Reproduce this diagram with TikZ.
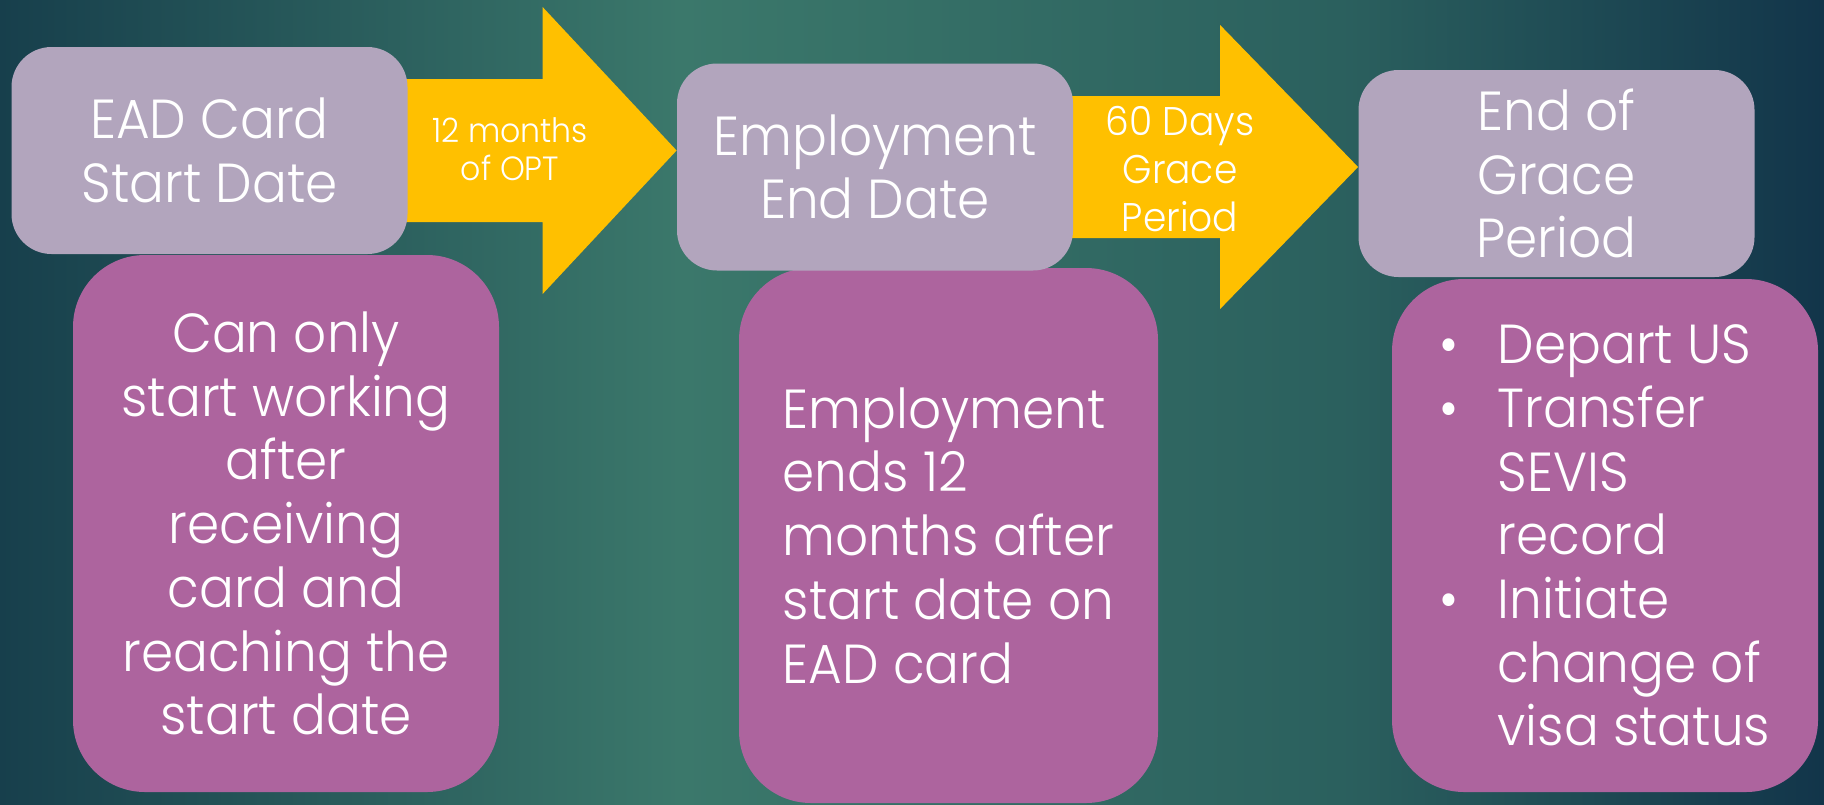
\documentclass[tikz,border=0pt]{standalone}
\usepackage{fontspec}
\IfFontExistsTF{Poppins Light}
  {\setmainfont{Poppins Light}[FakeStretch=0.94]}
  {\setmainfont{Poppins}[FakeStretch=0.94]}
\usetikzlibrary{calc}

\definecolor{bgedgeL}{HTML}{173F4C}
\definecolor{bgmid}{HTML}{3B786B}
\definecolor{bgright}{HTML}{2B605E}
\definecolor{bgedgeR}{HTML}{12354A}
\definecolor{lilac}{HTML}{B2A5BD}
\definecolor{plum}{HTML}{AD649E}
\definecolor{amber}{HTML}{FFC000}

\pgfdeclarelayer{backdrop}
\pgfdeclarelayer{arrowlayer}
\pgfsetlayers{backdrop,arrowlayer,main}

\newcommand{\bodysize}{\fontsize{27.5}{31.85}\selectfont}
\newcommand{\bul}{\makebox[29pt][l]{\textbullet}}
\newcommand{\nobul}{\hspace*{29pt}}

\begin{document}
\begin{tikzpicture}[x=0.5pt,y=-0.5pt,
  every node/.style={text=white, inner sep=0pt},
  datebox/.style={fill=lilac, rounded corners=20pt, minimum width=198pt,
    minimum height=103.5pt, align=center, font=\bodysize},
  notebox/.style={fill=plum, rounded corners=36pt, minimum width=213pt,
    font=\bodysize},
  arrowbody/.style={fill=amber}]

\useasboundingbox (0,0) rectangle (1824,804);

% backdrop: teal gradient, lightest left of centre
\begin{pgfonlayer}{backdrop}
  \shade[left color=bgedgeL, right color=bgmid] (0,0) rectangle (680,804);
  \shade[left color=bgmid, right color=bgright] (680,0) rectangle (1340,804);
  \shade[left color=bgright, right color=bgedgeR] (1340,0) rectangle (1824,804);
\end{pgfonlayer}

% detail panels
\node[notebox, minimum height=268.5pt, align=center] (p1) at (286,523.5)
  {Can only\\start working\\after\\receiving\\card and\\reaching the\\start date};
\node[notebox, minimum width=209.5pt, minimum height=267.5pt, align=left] (p2) at (948.5,535.5)
  {Employment\\ends 12\\months after\\start date on\\EAD card};
\node[notebox, minimum height=256.5pt, align=left] (p3) at (1605,535.5)
  {\bul Depart US\\\bul Transfer\\\nobul SEVIS\\\nobul record\\\bul Initiate\\\nobul change of\\\nobul visa status};

% milestone boxes
\node[datebox] (b1) at (209.5,150.5) {EAD Card\\Start Date};
\node[datebox] (b2) at (875,167) {Employment\\End Date};
\node[datebox] (b3) at (1556.5,173.5) {End of\\Grace\\Period};

% block arrows between milestones
\coordinate (s1) at (b1.east);
\coordinate (t1) at (b2.west |- b1.east);
\coordinate (s2) at (b2.east);
\coordinate (t2) at (b3.west |- b2.east);

\begin{pgfonlayer}{arrowlayer}
  \fill[arrowbody] ($(s1)+(-20,-71.5)$) -- ($(t1)+(-134,-71.5)$) -- ($(t1)+(-134,-143.5)$)
    -- (t1) -- ($(t1)+(-134,143.5)$) -- ($(t1)+(-134,71.5)$) -- ($(s1)+(-20,71.5)$) -- cycle;
  \fill[arrowbody] ($(s2)+(-20,-71)$) -- ($(t2)+(-138,-71)$) -- ($(t2)+(-138,-142)$)
    -- (t2) -- ($(t2)+(-138,142)$) -- ($(t2)+(-138,71)$) -- ($(s2)+(-20,71)$) -- cycle;
\end{pgfonlayer}

\node[font=\fontsize{16.8}{19}\selectfont, align=center] (l1) at (510,149) {12 months\\of OPT};
\node[font=\fontsize{20}{24}\selectfont, align=center] (l2) at (1180,169.5) {60 Days\\Grace\\Period};

\end{tikzpicture}
\end{document}
